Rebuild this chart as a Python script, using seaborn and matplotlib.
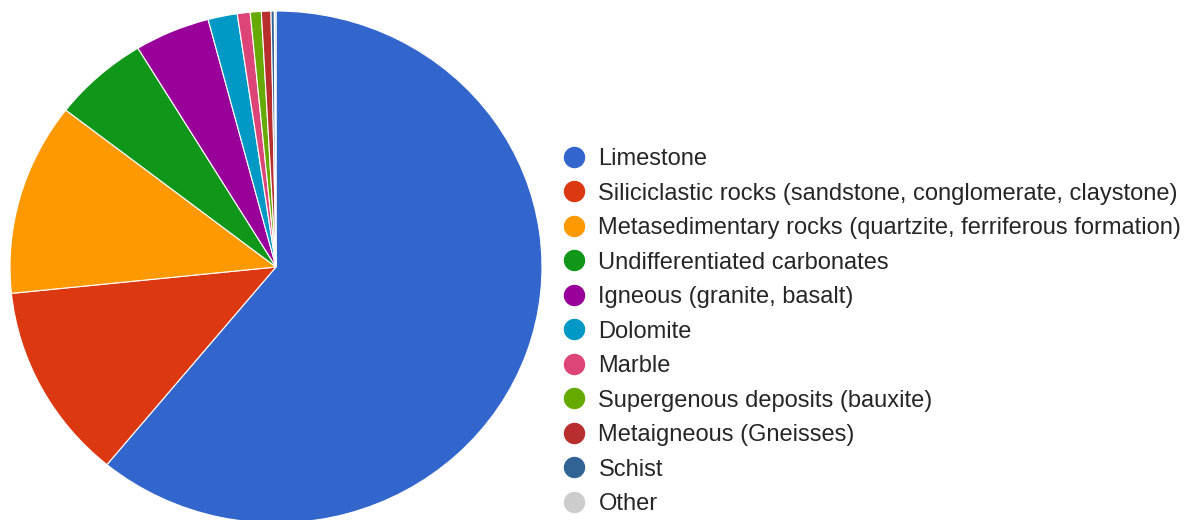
import seaborn as sns
import matplotlib.pyplot as plt
from matplotlib.lines import Line2D

# rock types and their share (%)
rock_types = [
    "Limestone",
    "Siliciclastic rocks (sandstone, conglomerate, claystone)",
    "Metasedimentary rocks (quartzite, ferriferous formation)",
    "Undifferentiated carbonates",
    "Igneous (granite, basalt)",
    "Dolomite",
    "Marble",
    "Supergenous deposits (bauxite)",
    "Metaigneous (Gneisses)",
    "Schist",
    "Other",
]
shares = [61.0, 12.4, 12.15, 5.82, 4.58, 1.78, 0.78, 0.67, 0.58, 0.2, 0.1]
colors = ["#3366cc", "#dc3912", "#ff9900", "#109618", "#990099", "#0099c6",
          "#dd4477", "#66aa00", "#b82e2e", "#316395", "#cccccc"]

sns.set_style("white")
plt.rcParams['font.family'] = ['Liberation Sans', 'DejaVu Sans']

W, H = 1192, 520
fig = plt.figure(figsize=(W / 100, H / 100), dpi=100)

# pie is slightly squashed vertically and cut at the bottom
left, top, pw, ph = 10, 11, 532, 512
ax = fig.add_axes([left / W, (H - top - ph) / H, pw / W, ph / H])
palette = sns.color_palette(colors)
ax.pie(shares, colors=palette, startangle=90, counterclock=False,
       wedgeprops=dict(edgecolor="white", linewidth=0.8))
ax.set_aspect("auto")
ax.set_xlim(-1, 1)
ax.set_ylim(-1, 1)
ax.axis("off")

handles = [Line2D([], [], marker="o", linestyle="", markersize=14.4,
                  markerfacecolor=c, markeredgecolor=c) for c in palette]
fig.legend(handles, rock_types, loc="upper left",
           bbox_to_anchor=(563 / W, 1 - 148 / H), frameon=False,
           fontsize=17, handlelength=0.95, handletextpad=0.55,
           labelspacing=0.53, borderpad=0, borderaxespad=0)

fig.savefig("out.png", dpi=100)
